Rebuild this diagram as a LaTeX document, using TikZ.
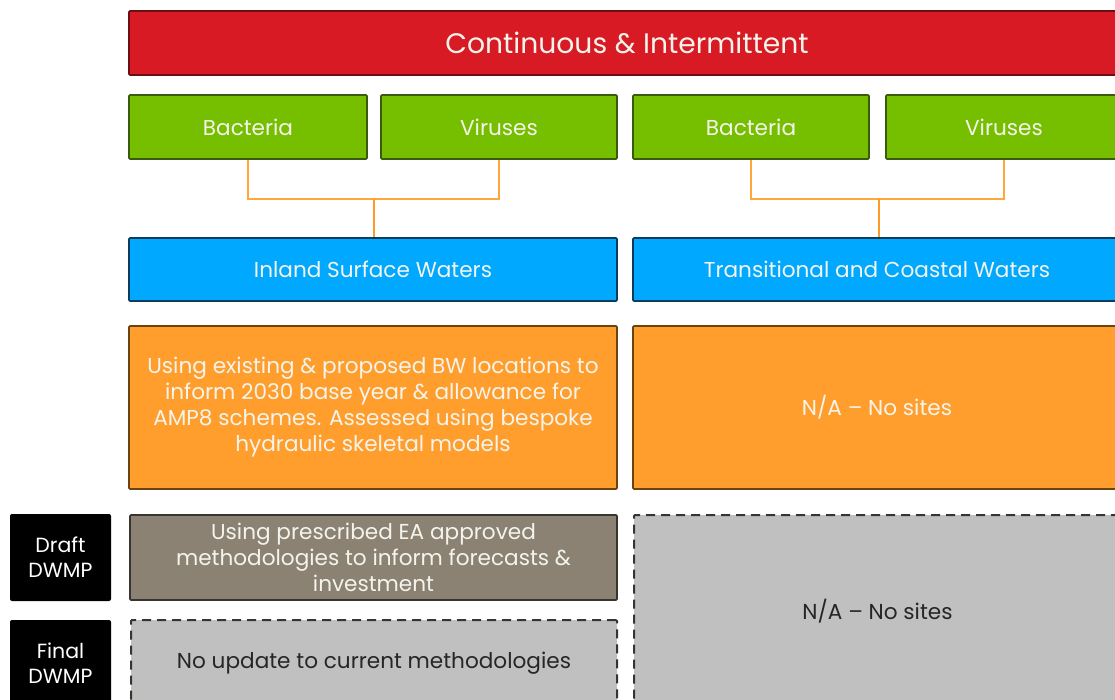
\documentclass[tikz,border=0pt]{standalone}
\usepackage{fontspec}
\setmainfont{Poppins}
\definecolor{cred}{HTML}{D71A24}
\definecolor{credb}{HTML}{6B0F12}
\definecolor{cgreen}{HTML}{76BE00}
\definecolor{cgreenb}{HTML}{3A5A0C}
\definecolor{cblue}{HTML}{00A8FF}
\definecolor{cblueb}{HTML}{0A3D5C}
\definecolor{corange}{HTML}{FF9E2C}
\definecolor{corangeb}{HTML}{6B4310}
\definecolor{cbrown}{HTML}{8B8273}
\definecolor{cdark}{HTML}{38342E}
\definecolor{cgray}{HTML}{C0C0C0}
\definecolor{cline}{HTML}{FFA63C}
\definecolor{cstem}{HTML}{FF9A26}
\definecolor{ctext}{HTML}{F4F4EC}
\tikzset{
  box/.style={rectangle, line width=1.6pt, rounded corners=1pt, inner sep=0pt, align=center, text=ctext, font=\fontsize{21.6}{26}\selectfont},
  redbox/.style={box, fill=cred, draw=credb, font=\fontsize{28.2}{32}\selectfont},
  greenbox/.style={box, fill=cgreen, draw=cgreenb},
  bluebox/.style={box, fill=cblue, draw=cblueb},
  orangebox/.style={box, fill=corange, draw=corangeb},
  brownbox/.style={box, fill=cbrown, draw=cdark},
  graybox/.style={box, fill=cgray, draw=cdark, line width=2pt, dash pattern=on 9pt off 6pt, text=black!85},
  labelbox/.style={box, fill=black, draw=none, rounded corners=2pt, text=white, font=\fontsize{20.5}{25}\selectfont},
  thinlink/.style={draw=cline, line width=1.5pt},
  stemlink/.style={draw=cstem, line width=2pt}
}
\begin{document}
\begin{tikzpicture}[x=1pt,y=-1pt]
\useasboundingbox (0,0) rectangle (1115,699);
\clip (0,0) rectangle (1115,699);
\node[redbox, minimum width=996, minimum height=64] (title) at (627,43) {Continuous \& Intermittent};
\node[greenbox, minimum width=238, minimum height=64] (b1) at (248,127) {Bacteria};
\node[greenbox, minimum width=236, minimum height=64] (v1) at (499,127) {Viruses};
\node[greenbox, minimum width=236, minimum height=64] (b2) at (751,127) {Bacteria};
\node[greenbox, minimum width=236, minimum height=64] (v2) at (1004,127) {Viruses};
\node[bluebox, minimum width=488, minimum height=63] (isw) at (373,269.5) {Inland Surface Waters};
\node[bluebox, minimum width=488, minimum height=63] (tcw) at (877,269.5) {Transitional and Coastal Waters};
\node[orangebox, minimum width=488, minimum height=163] (o1) at (373,407.5) {Using existing \& proposed BW locations to\\inform 2030 base year \& allowance for\\AMP8 schemes. Assessed using bespoke\\hydraulic skeletal models};
\node[orangebox, minimum width=488, minimum height=163] (o2) at (877,407.5) {N/A -- No sites};
\node[labelbox, minimum width=101, minimum height=87] (draft) at (60.5,557.5) {Draft\\DWMP};
\node[brownbox, minimum width=487, minimum height=85] (dr) at (373.5,557.5) {Using prescribed EA approved\\methodologies to inform forecasts \&\\investment};
\node[labelbox, minimum width=101, minimum height=87] (final) at (60.5,663.5) {Final\\DWMP};
\node[graybox, minimum width=486, minimum height=87] (fin) at (374,663.5) {No update to current methodologies};
\node[graybox, minimum width=487, minimum height=192] (na) at (877.5,611) {N/A -- No sites};
\coordinate (j1) at (374,199);
\coordinate (j2) at (879,199);
\draw[thinlink] (b1.south) |- (j1);
\draw[thinlink] (j1) -| (v1.south);
\draw[stemlink] (j1) -- (isw.north -| j1);
\draw[thinlink] (b2.south) |- (j2);
\draw[thinlink] (j2) -| (v2.south);
\draw[stemlink] (j2) -- (tcw.north -| j2);
\end{tikzpicture}
\end{document}
